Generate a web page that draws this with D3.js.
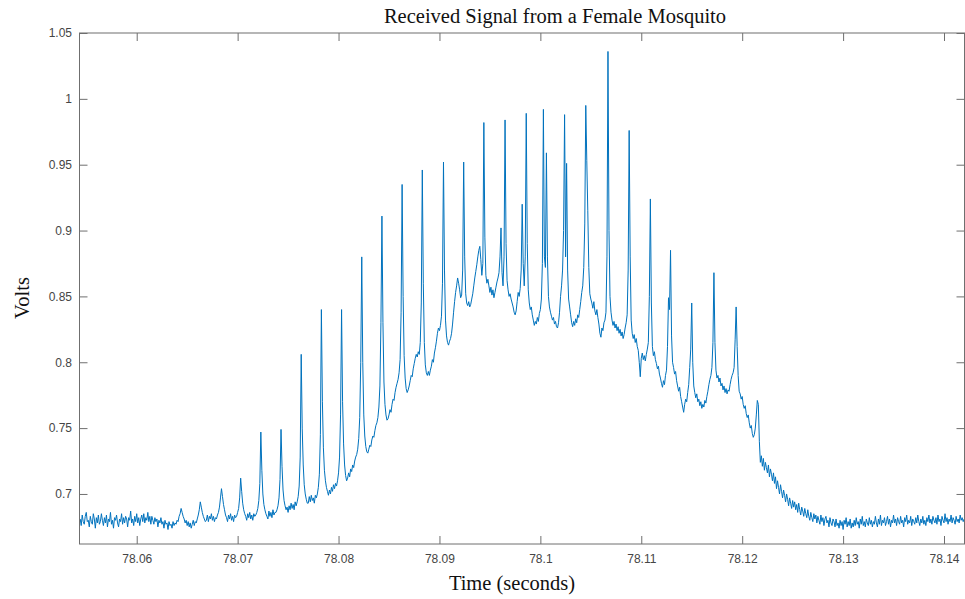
<!DOCTYPE html>
<html>
<head>
<meta charset="utf-8">
<script src="https://cdn.jsdelivr.net/npm/d3@7/dist/d3.min.js"></script>
<style>
  body { margin: 0; background: #ffffff; }
  svg { display: block; }
</style>
</head>
<body>
<svg id="chart" width="965" height="599"></svg>
<script>
// Sampling of the recorded trace
const startTime = 78.0544;   // seconds, first sample
const sampleStep = 0.0001;   // seconds between samples

// Received signal in millivolts, in recording order
const quietBefore = [
  681, 676, 684, 679, 677, 683, 686, 679, 680, 675, 683, 679, 677, 685, 681, 674, 682, 678, 684, 677,
  679, 685, 680, 676, 682, 678, 684, 675, 681, 679, 686, 677, 680, 674, 682, 680, 684, 678, 675, 681,
  679, 685, 677, 682, 678, 683, 681, 675, 682, 680, 687, 678, 681, 676, 683, 679, 685, 678, 682, 676,
  681, 684, 679, 685, 678, 682, 680, 686, 679, 683, 677, 683, 680, 677, 682, 679, 681, 675, 680, 678,
  682, 677, 679, 674, 680, 677, 678, 673, 679, 676, 677, 674, 679, 676, 678
];
const approach = [
  677, 680, 679, 683, 685, 689, 686, 683, 681, 678, 680,
  676, 679, 675, 678, 674, 677, 680, 676, 679,
  678, 681, 684, 688, 694, 690, 686, 683, 681, 679,
  680, 684, 679, 683, 681, 685, 680, 683, 679, 682,
  681, 684, 686, 690, 697, 704, 698, 692, 688, 684, 682,
  679, 684, 681, 685, 680, 683, 679, 684, 682,
  683, 686, 689, 697, 712, 702, 693, 688, 685, 683,
  680, 685, 682, 686, 681, 684, 680, 685, 683,
  684, 686, 689, 695, 708, 747, 718, 700, 692, 688, 685, 683,
  681, 687, 683, 686, 682, 688, 684, 686,
  686, 688, 691, 697, 711, 749
];
const risingBeats = [
  721, 703, 695, 691, 688, 690,
  686, 691, 688, 693, 689, 692, 688, 694,
  691, 694, 698, 706, 728, 806, 750, 722, 707, 700, 696, 693,
  693, 698, 694, 699, 695, 697, 693, 699,
  697, 700, 705, 715, 745, 840, 770, 735, 718, 710, 705, 702,
  699, 703, 700, 705, 702, 707, 704, 708,
  706, 710, 716, 728, 760, 840, 770, 738, 722, 714, 710, 712,
  716, 713, 719, 717, 722, 720, 725, 728,
  730, 734, 742, 758, 800, 880, 800, 760, 744, 736, 732, 731,
  734, 737, 736, 741, 744, 743, 748, 752,
  754, 758, 766, 782, 830, 911, 830, 785, 768, 760, 756, 757,
  760, 764, 762, 768, 772, 771, 777, 781, 784,
  787, 792, 802, 838, 935, 850, 805, 788, 780, 777, 779,
  782, 786, 790, 789, 795, 799, 803, 806, 804, 808,
  806, 815, 845, 946, 860, 815, 798, 792, 790, 793,
  790, 794, 797, 802, 800, 807, 811, 816, 822, 826, 824, 828,
  835, 860, 952, 870, 832, 820, 815, 813, 816,
  818, 822, 829, 838, 846, 853, 858, 864, 860, 855, 849, 851,
  870, 952, 880, 852,
  845, 843, 846, 842, 844, 848, 852, 858, 864, 869, 874, 880, 885, 888, 878,
  866, 875
];
const hoveringBeats = [
  982, 895, 866, 860, 863, 858,
  853, 857, 851, 855, 849, 853, 857, 861, 864,
  868, 880, 902, 868, 858, 880, 984, 890, 862, 855, 850, 852, 848,
  845, 842, 838, 836, 839, 846, 853, 850, 856,
  870, 920, 875, 858, 880, 989, 890, 855, 845, 840, 842,
  836, 832, 828, 831, 829, 834, 831, 837, 840,
  848, 875, 992, 880, 872, 959, 880, 850, 842,
  838, 835, 832, 834, 829, 831, 827, 826, 830, 838, 850,
  858, 870, 900, 988, 880, 951, 870, 848, 842,
  836, 830, 827, 831, 828, 833, 830, 836, 834, 840, 846,
  853, 858, 872, 905, 995, 953, 915, 872, 852,
  848, 845, 841, 846, 839, 836, 840, 834, 829, 822, 819, 826, 824, 830, 832,
  838, 880, 1036, 900, 850, 838,
  832, 828, 831, 826, 829, 824, 827, 822, 825, 820, 823, 818, 821, 826, 830,
  836, 870, 976, 880, 832, 822,
  818, 821, 815, 818, 812, 809, 800, 789, 803, 807, 802, 805, 801, 806, 810,
  815, 850, 924, 845, 812, 805,
  808, 802, 799, 795, 797, 791, 788, 784, 781, 786, 783, 790,
  794, 812, 849, 840, 885, 820, 800, 796,
  791, 793, 786, 782, 778, 781, 774, 770, 766, 762, 768
];
const departure = [
  772, 770, 777,
  783, 796, 810, 845, 800, 782, 777,
  773, 776, 770, 772, 767, 770, 765, 768, 766, 771, 769, 774, 778, 783, 787,
  790, 796, 815, 868, 815, 794, 788,
  790, 785, 788, 782, 784, 779, 782, 777, 780, 776, 779, 778, 783, 787, 790, 792,
  796, 817, 842, 812, 790, 778,
  776, 772, 774, 768, 765, 767, 761, 758, 760, 754, 750, 752, 746, 743,
  745, 750, 760, 771, 768, 740, 724,
  729, 721, 727, 718, 724, 720, 716, 722, 713, 719, 715, 710, 716,
  708, 713, 704, 710, 705, 700, 707, 702, 697, 703,
  699, 694, 700, 696, 691, 697, 693, 689, 695, 690, 694, 688, 692, 686, 693, 688, 684, 690, 687, 683, 689, 685, 682,
  688, 683, 680, 686, 682, 679, 685, 681, 684, 678, 683, 680, 677, 684, 679, 682, 676, 681, 683, 678, 680, 675, 682, 678, 676, 681
];
const quietAfter = [
  679, 675, 681, 676, 678, 674, 680, 676, 679, 673, 680, 677, 682, 675, 679, 676, 681, 674, 678, 675,
  680, 676, 682, 677, 679, 674, 681, 677, 683, 676, 679, 675, 681, 678, 676, 682, 677, 680, 675, 679,
  677, 683, 678, 675, 681, 677, 684, 676, 680, 678, 682, 676, 679, 683, 677, 681, 675, 680, 678, 684,
  678, 681, 676, 682, 679, 677, 683, 678, 680, 675, 682, 679, 684, 677, 680, 678, 683, 676, 681, 679,
  677, 682, 678, 684, 679, 676, 681, 678, 683, 677, 680, 676, 682, 679, 684, 678, 681, 677, 683, 680,
  678, 682, 677, 684, 679, 681, 676, 683, 680, 678, 685, 679, 682, 677, 681, 679, 684, 678, 682, 680,
  677, 683, 679, 681, 678, 684, 680, 682, 679, 681
];

// Axis ticks
const xTicks = [78.06, 78.07, 78.08, 78.09, 78.10, 78.11, 78.12, 78.13, 78.14];
const xTickLabels = ["78.06", "78.07", "78.08", "78.09", "78.1", "78.11", "78.12", "78.13", "78.14"];
const yTicks = [0.70, 0.75, 0.80, 0.85, 0.90, 0.95, 1.00, 1.05];
const yTickLabels = ["0.7", "0.75", "0.8", "0.85", "0.9", "0.95", "1", "1.05"];

const titleText = "Received Signal from a Female Mosquito";
const xLabelText = "Time (seconds)";
const yLabelText = "Volts";

// ---- build samples ----
const millivolts = [].concat(quietBefore, approach, risingBeats, hoveringBeats, departure, quietAfter);
const samples = millivolts.map((mv, i) => ({ t: startTime + i * sampleStep, v: mv / 1000 }));

// ---- layout ----
const plot = { left: 79.5, right: 964.5, top: 33, bottom: 544 };
const x = d3.scaleLinear().domain([78.05433, 78.14203]).range([plot.left, plot.right]);
const y = d3.scaleLinear().domain([0.662, 1.05]).range([plot.bottom, plot.top]);

const svg = d3.select("#chart");
const axisColor = "#6f6f6f";
const tickFont = "'Liberation Sans', Arial, Helvetica, sans-serif";
const serif = "'Liberation Serif', 'Times New Roman', Times, serif";

svg.append("defs").append("clipPath").attr("id", "plot-clip")
  .append("rect")
  .attr("x", plot.left).attr("y", plot.top)
  .attr("width", plot.right - plot.left).attr("height", plot.bottom - plot.top);

// signal trace
const line = d3.line().x(d => x(d.t)).y(d => y(d.v));
svg.append("path")
  .datum(samples)
  .attr("clip-path", "url(#plot-clip)")
  .attr("fill", "none")
  .attr("stroke", "#0072BD")
  .attr("stroke-width", 1)
  .attr("stroke-linejoin", "round")
  .attr("d", line);

// axes with inward ticks on all four sides
function styleAxis(g) {
  g.select(".domain").remove();
  g.selectAll(".tick line").attr("stroke", axisColor).attr("stroke-width", 1);
  g.selectAll(".tick text")
    .attr("fill", "#454545")
    .style("font-family", tickFont)
    .style("font-size", "12px");
}

svg.append("g")
  .attr("transform", `translate(0,${plot.bottom})`)
  .call(d3.axisBottom(x).tickValues(xTicks).tickFormat((d, i) => xTickLabels[i])
    .tickSizeInner(-8).tickSizeOuter(0).tickPadding(10.5))
  .call(styleAxis);

svg.append("g")
  .attr("transform", `translate(0,${plot.top})`)
  .call(d3.axisTop(x).tickValues(xTicks).tickFormat("")
    .tickSizeInner(-8).tickSizeOuter(0))
  .call(styleAxis);

svg.append("g")
  .attr("transform", `translate(${plot.left},0)`)
  .call(d3.axisLeft(y).tickValues(yTicks).tickFormat((d, i) => yTickLabels[i])
    .tickSizeInner(-8).tickSizeOuter(0).tickPadding(7.5))
  .call(styleAxis);

svg.append("g")
  .attr("transform", `translate(${plot.right},0)`)
  .call(d3.axisRight(y).tickValues(yTicks).tickFormat("")
    .tickSizeInner(-8).tickSizeOuter(0))
  .call(styleAxis);

// axes box
svg.append("rect")
  .attr("x", plot.left).attr("y", plot.top)
  .attr("width", plot.right - plot.left).attr("height", plot.bottom - plot.top)
  .attr("fill", "none")
  .attr("stroke", axisColor)
  .attr("stroke-width", 1);

// title and labels
svg.append("text")
  .attr("x", 555).attr("y", 23)
  .attr("text-anchor", "middle")
  .style("font-family", serif).style("font-size", "20.5px")
  .attr("fill", "#111")
  .text(titleText);

svg.append("text")
  .attr("x", 512).attr("y", 590)
  .attr("text-anchor", "middle")
  .style("font-family", serif).style("font-size", "20.5px")
  .attr("fill", "#111")
  .text(xLabelText);

svg.append("text")
  .attr("transform", "translate(29,298) rotate(-90)")
  .attr("text-anchor", "middle")
  .style("font-family", serif).style("font-size", "20.5px")
  .attr("fill", "#111")
  .text(yLabelText);
</script>
</body>
</html>
